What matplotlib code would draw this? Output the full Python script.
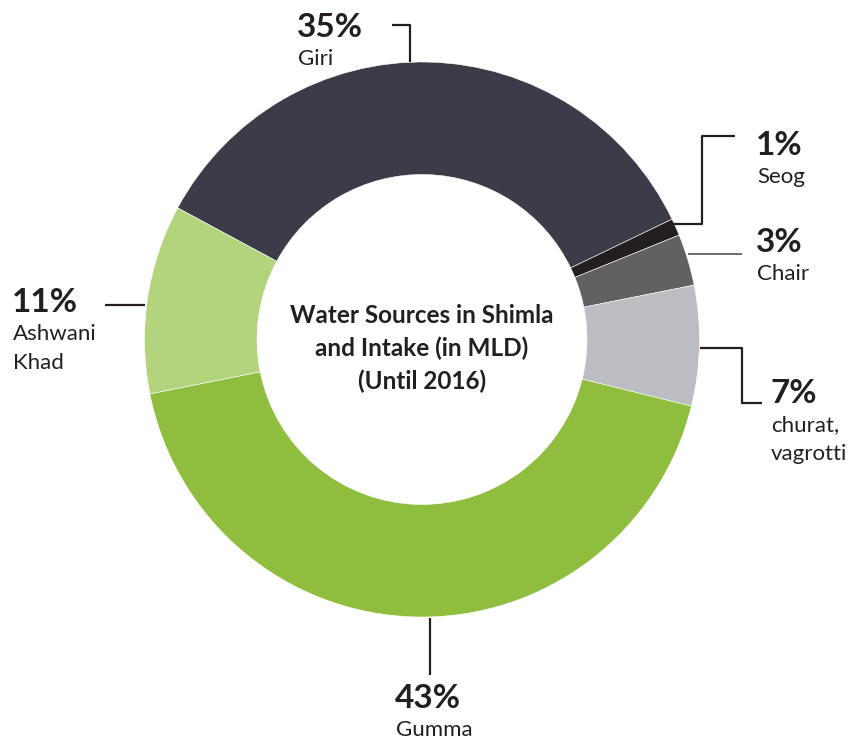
from matplotlib import pyplot as plt

# water sources (share of intake, %)
sources = ["Giri", "Seog", "Chair", "churat,\nvagrotti", "Gumma", "Ashwani\nKhad"]
shares = [35, 1, 3, 7, 43, 11]
colors = ["#3c3c49", "#231f20", "#616163", "#bcbdc0", "#8fbd3e", "#b3d47d"]
title_lines = ["Water Sources in Shimla", "and Intake (in MLD)", "(Until 2016)"]

W, H = 864, 740
dark = "#231f20"
plt.rcParams['font.family'] = ['Lato', 'DejaVu Sans']

fig = plt.figure(figsize=(W / 100, H / 100), dpi=100)
ax = fig.add_axes([0, 0, 1, 1])

ax.pie(shares, colors=colors, startangle=151.7, counterclock=False,
       center=(422, H - 339.5), radius=277.5,
       wedgeprops=dict(width=277.5 - 165, edgecolor="white", linewidth=0.4))
ax.set_xlim(0, W)
ax.set_ylim(0, H)
ax.axis("off")


def line(xs, ys, c=dark, lw=1.6):
    ax.plot(xs, [H - y for y in ys], color=c, lw=lw, solid_capstyle="butt")


def label(x, y, pct, name):
    # y = baseline of the percentage, pixels from top
    ax.text(x, H - y, "%d%%" % pct, fontsize=24, fontweight="bold",
            color=dark, va="baseline", ha="left")
    for i, part in enumerate(name.split("\n")):
        ax.text(x + 1, H - (y + 28 + 29 * i), part, fontsize=16, color=dark,
                va="baseline", ha="left")


# leader lines
line([392, 410, 410], [25, 25, 62])
line([672, 702, 702, 735], [224, 224, 136, 136])
line([688, 742], [254, 254], c="#6d6d6f", lw=1.4)
line([700, 742, 742, 762], [348, 348, 403, 403])
line([105, 145], [305, 305])
line([430, 430], [618, 675])

# labels
label(297, 37, shares[0], sources[0])
label(756, 155, shares[1], sources[1])
label(756, 252, shares[2], sources[2])
label(770, 403, shares[3], sources[3])
label(395, 708, shares[4], sources[4])
label(12, 312, shares[5], sources[5])

for i, t in enumerate(title_lines):
    ax.text(422, H - (323 + 33 * i), t, ha="center", va="baseline",
            fontsize=17.5, fontweight="bold", color=dark)

fig.savefig("out.png", dpi=100)
